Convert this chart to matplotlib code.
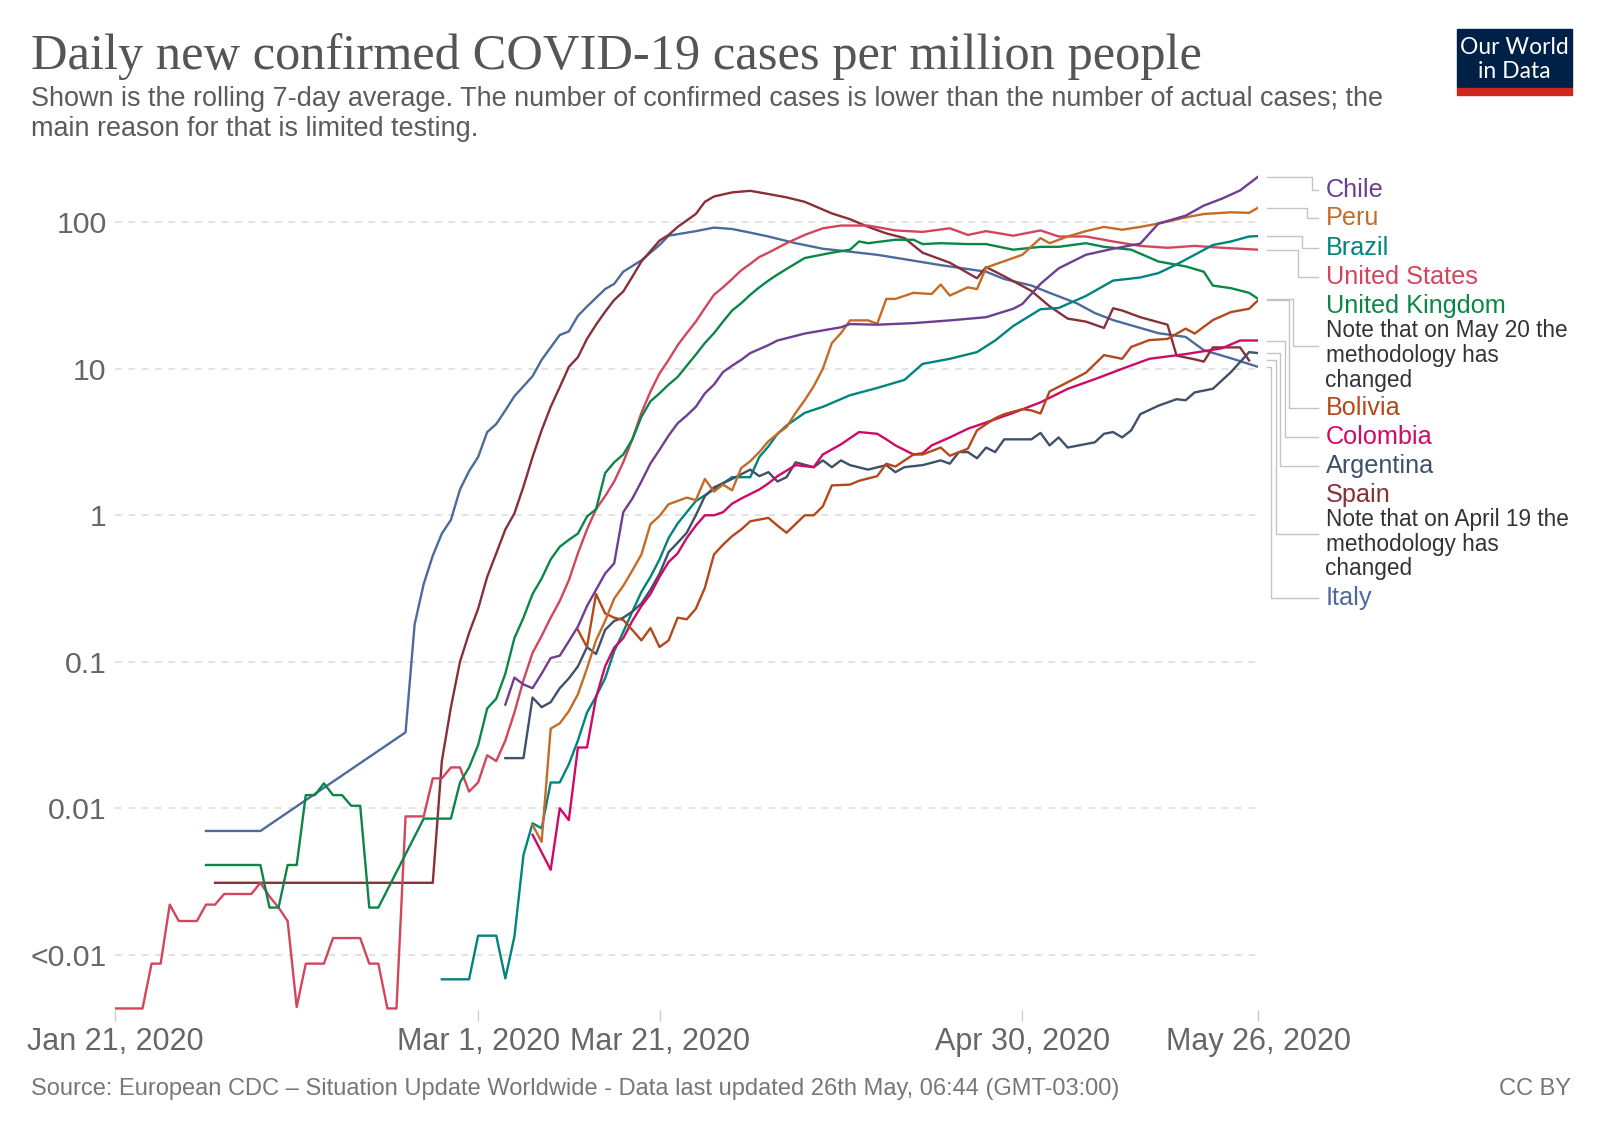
import numpy as np
import matplotlib
matplotlib.use('Agg')
import matplotlib.pyplot as plt
from matplotlib.lines import Line2D
from matplotlib.patches import Rectangle
from matplotlib.ticker import NullLocator

plt.rcParams['font.family'] = ['Liberation Sans', 'DejaVu Sans']

W, H = 1600, 1129
start = np.datetime64('2020-01-21')

# days since Jan 21 2020 and daily new confirmed cases per million (7-day avg)
italy_days = [10, 16, 32, 33, 34, 35, 36, 37, 38, 39, 40, 41, 42, 43, 44, 45, 46, 47, 48, 49, 50, 51, 52, 54, 55, 56, 58, 60, 61, 64,
              66, 68, 70, 72, 75, 78, 81, 84, 87, 91, 96, 98, 101, 103, 106, 108, 110, 113, 115, 118, 120, 123, 126]
italy_vals = [0.007, 0.007, 0.033, 0.18, 0.34, 0.53, 0.75, 0.93, 1.5, 2.0, 2.5, 3.7, 4.2, 5.2, 6.5, 7.6, 8.9, 11.5, 14, 17, 18, 23, 26.6, 35, 38, 46, 55, 70, 81, 87,
              92, 90, 85, 80, 72, 66, 63, 60, 56, 51, 46, 41, 37, 33, 28, 24, 21.5, 19, 17.5, 16.5, 13.4, 11.8, 10.3]

spain_days = [11, 35, 36, 37, 38, 39, 40, 41, 42, 43, 44, 45, 46, 47, 48, 49, 50, 51, 52, 53, 54, 55, 56, 57, 58, 60, 61, 62, 64, 65,
              66, 68, 70, 72, 74, 76, 79, 81, 83, 85, 87, 89, 92, 95, 96, 98, 101, 103, 105, 107, 109, 110, 111, 113, 116, 117, 119, 120, 121, 124, 125]
spain_vals = [0.0031, 0.0031, 0.021, 0.049, 0.10, 0.157, 0.23, 0.38, 0.55, 0.8, 1.03, 1.57, 2.5, 3.8, 5.5, 7.5, 10.3, 12, 16, 20, 24.5, 29.5, 33.7, 42.5, 54, 75, 82, 93, 114, 138,
              150, 160, 164, 156, 148, 138, 115, 105, 93, 84, 78, 62, 53, 41.5, 49.5, 42.8, 34, 26.7, 22, 21, 19, 25.9, 25, 22.5, 20, 12.3, 11.6, 11.2, 14, 14, 11.4]

us_days = [0, 3, 4, 5, 6, 7, 9, 10, 11, 12, 15, 16, 17, 18, 19, 20, 21, 23, 24, 27, 28, 29, 30, 31, 32, 34, 35, 36, 37, 38,
           39, 40, 41, 42, 43, 44, 45, 46, 47, 48, 49, 50, 51, 52, 53, 54, 55, 56, 57, 58, 59, 60, 61, 62, 63, 64, 65, 66, 67, 68,
           69, 70, 71, 72, 74, 76, 78, 80, 83, 86, 89, 92, 94, 96, 99, 102, 104, 107, 110, 113, 116, 119, 122, 124, 126]
us_vals = [0.00043, 0.00043, 0.00087, 0.00087, 0.0022, 0.0017, 0.0017, 0.0022, 0.0022, 0.0026, 0.0026, 0.0031, 0.0025, 0.0021, 0.0017,
           0.00044, 0.00087, 0.00087, 0.0013, 0.0013, 0.00087, 0.00087, 0.00043, 0.00043, 0.0088, 0.0088, 0.016, 0.016, 0.019, 0.019,
           0.013, 0.015, 0.023, 0.021, 0.029, 0.045, 0.075, 0.115, 0.15, 0.2, 0.26, 0.36, 0.55, 0.8, 1.1, 1.35, 1.7, 2.3, 3.3, 5.0,
           7.0, 9.3, 11.5, 14.5, 17.5, 21, 26, 32, 36, 41, 47, 52, 58, 62, 72, 82, 91, 95, 95, 88,
           86, 91, 82, 87, 81, 88, 80, 80, 74, 69, 67, 69, 67, 66, 65]

uk_days = [10, 16, 17, 18, 19, 20, 21, 22, 23, 24, 25, 26, 27, 28, 29, 34, 37, 38, 39, 40, 41, 42, 43, 44, 45, 46, 47, 48, 49, 50,
           51, 52, 53, 54, 55, 56, 57, 58, 59, 60, 61, 62, 63, 64, 65, 66, 67, 68, 69, 70, 71, 72, 73, 74, 76, 79, 81, 82, 83, 86,
           88, 89, 91, 94, 96, 99, 102, 104, 107, 109, 112, 115, 118, 120, 121, 123, 125, 126]
uk_vals = [0.0041, 0.0041, 0.0021, 0.0021, 0.0041, 0.0041, 0.0123, 0.0123, 0.0148, 0.0123, 0.0123, 0.0104, 0.0104, 0.0021, 0.0021,
           0.0085, 0.0085, 0.015, 0.019, 0.027, 0.048, 0.056, 0.083, 0.145, 0.2, 0.29, 0.37, 0.5, 0.61, 0.68,
           0.75, 0.98, 1.1, 1.94, 2.3, 2.6, 3.3, 4.7, 6.0, 6.8, 7.8, 8.8, 10.5, 12.5, 15, 17.5, 21, 25, 28, 32,
           36, 40, 44, 48, 57, 62, 65, 74, 72, 76, 76, 71, 72, 71, 71, 65, 68, 68, 72, 68, 65, 54, 50, 46, 37, 35.5, 33, 30]

chile_days = [43, 44, 45, 46, 47, 48, 49, 50, 51, 52, 53, 54, 55, 56, 57, 58, 59, 60, 61, 62, 63, 64, 65, 66, 67, 68, 69, 70, 72, 73,
              76, 80, 81, 84, 88, 92, 96, 99, 100, 102, 104, 107, 110, 113, 115, 118, 120, 122, 124, 126]
chile_vals = [0.051, 0.078, 0.07, 0.066, 0.083, 0.106, 0.11, 0.138, 0.174, 0.24, 0.31, 0.4, 0.47, 1.05, 1.3, 1.7, 2.26, 2.8, 3.5, 4.25,
              4.8, 5.5, 6.8, 7.8, 9.5, 10.5, 11.5, 12.8, 14.5, 15.6, 17.4, 19.2, 20.2, 20, 20.5, 21.4, 22.5, 25.7, 27.7, 38,
              48.5, 60, 66, 71.5, 98, 111, 130, 145, 165, 205]

peru_days = [46, 47, 48, 49, 50, 51, 52, 53, 54, 55, 56, 57, 58, 59, 60, 61, 63, 64, 65, 66, 67, 68, 69, 70, 71, 72, 73, 74, 75, 76,
             77, 78, 79, 80, 81, 83, 84, 85, 86, 88, 90, 91, 92, 94, 95, 96, 97, 100, 102, 103, 105, 107, 109, 111, 113, 115, 118, 120, 123, 125, 126]
peru_vals = [0.0077, 0.0059, 0.035, 0.038, 0.046, 0.06, 0.09, 0.14, 0.19, 0.27, 0.33, 0.42, 0.54, 0.87, 0.99, 1.19, 1.32, 1.27, 1.77, 1.45,
             1.62, 1.48, 2.1, 2.34, 2.7, 3.2, 3.6, 4.0, 5.0, 6.1, 7.6, 10, 15, 17.5, 21.4, 21.4, 20.3, 30, 30, 33,
             32.4, 37.6, 31.6, 36, 35, 49, 51.6, 60, 78, 72, 80, 87, 93, 89, 93, 98, 108, 114, 117, 116, 126]

brazil_days = [36, 39, 40, 42, 43, 44, 45, 46, 47, 48, 49, 50, 51, 52, 53, 54, 55, 56, 57, 58, 59, 60, 61, 62, 63, 64, 66, 68, 70, 71,
               72, 73, 74, 76, 78, 81, 84, 87, 89, 92, 95, 97, 99, 102, 104, 107, 110, 113, 115, 117, 119, 121, 123, 125, 126]
brazil_vals = [0.00068, 0.00068, 0.00135, 0.00135, 0.00069, 0.00133, 0.0048, 0.0079, 0.0073, 0.015, 0.015, 0.02, 0.029, 0.045, 0.058,
               0.077, 0.118, 0.16, 0.22, 0.3, 0.38, 0.5, 0.7, 0.88, 1.05, 1.25, 1.5, 1.82, 1.82, 2.5,
               2.95, 3.6, 4.1, 5.0, 5.5, 6.6, 7.4, 8.4, 10.8, 11.7, 13, 15.6, 19.6, 25.5, 26, 31.4, 40, 42, 45, 51.6, 60, 70, 74, 80, 80.5]

argentina_days = [43, 45, 46, 47, 48, 49, 50, 51, 52, 53, 54, 55, 56, 57, 58, 59, 60, 61, 62, 63, 64, 65, 66, 68, 70, 71, 72, 73, 74, 75,
                  77, 78, 79, 80, 81, 83, 85, 86, 87, 89, 91, 92, 93, 94, 95, 96, 97, 98, 101, 102, 103, 104, 105, 108, 109, 110, 111, 112, 113, 115,
                  117, 118, 119, 121, 123, 125, 126]
argentina_vals = [0.022, 0.022, 0.057, 0.049, 0.053, 0.066, 0.077, 0.093, 0.126, 0.113, 0.165, 0.19, 0.2, 0.22, 0.25, 0.31, 0.4, 0.56, 0.65, 0.76,
                  1.0, 1.35, 1.55, 1.77, 2.05, 1.85, 1.97, 1.7, 1.82, 2.3, 2.13, 2.37, 2.13, 2.37, 2.2, 2.05, 2.2, 1.97, 2.13, 2.2,
                  2.37, 2.25, 2.7, 2.7, 2.45, 2.9, 2.7, 3.3, 3.3, 3.65, 3.0, 3.4, 2.9, 3.15, 3.6, 3.7, 3.4, 3.8, 4.9, 5.6,
                  6.2, 6.1, 6.9, 7.3, 9.5, 13, 12.8]

colombia_days = [46, 48, 49, 50, 51, 52, 53, 54, 55, 56, 57, 58, 59, 60, 61, 62, 63, 64, 65, 66, 67, 68, 69, 71, 72, 73, 75, 77, 78, 80,
                 82, 84, 85, 86, 88, 89, 90, 92, 94, 96, 99, 102, 105, 108, 111, 114, 118, 122, 124, 126]
colombia_vals = [0.0066, 0.0038, 0.01, 0.0083, 0.026, 0.026, 0.057, 0.093, 0.125, 0.145, 0.19, 0.24, 0.29, 0.38, 0.48, 0.55, 0.7, 0.85, 1.0, 1.0,
                 1.05, 1.2, 1.3, 1.5, 1.65, 1.85, 2.2, 2.13, 2.6, 3.05, 3.7, 3.6, 3.3, 3.0, 2.6, 2.65, 3.0, 3.4, 3.9, 4.3,
                 5.0, 5.9, 7.3, 8.5, 10, 11.7, 12.6, 13.8, 15.6, 15.6]

bolivia_days = [51, 52, 53, 54, 55, 56, 57, 58, 59, 60, 61, 62, 63, 64, 65, 66, 67, 68, 69, 70, 72, 73, 74, 76, 77, 78, 79, 81, 82, 84,
                85, 86, 88, 89, 91, 92, 94, 95, 97, 98, 100, 101, 102, 103, 105, 107, 109, 111, 112, 114, 116, 118, 119, 121, 123, 125, 126]
bolivia_vals = [0.165, 0.126, 0.29, 0.214, 0.2, 0.193, 0.165, 0.14, 0.17, 0.126, 0.14, 0.2, 0.195, 0.23, 0.32, 0.54, 0.63, 0.72, 0.8, 0.91,
                0.96, 0.85, 0.76, 1.0, 1.0, 1.15, 1.6, 1.62, 1.72, 1.85, 2.25, 2.15, 2.6, 2.6, 2.9, 2.55, 2.85, 3.8, 4.6, 4.9,
                5.3, 5.2, 4.95, 7.0, 8.1, 9.4, 12.4, 11.7, 14.1, 15.7, 16, 18.8, 17.4, 21.5, 24.4, 25.7, 29.4]

ytick_vals = [0.001, 0.01, 0.1, 1, 10, 100]
ytick_labels = ['<0.01', '0.01', '0.1', '1', '10', '100']
xtick_dates = ['2020-01-21', '2020-03-01', '2020-03-21', '2020-04-30', '2020-05-26']
xtick_labels = ['Jan 21, 2020', 'Mar 1, 2020', 'Mar 21, 2020', 'Apr 30, 2020', 'May 26, 2020']

# name, days, values, colour
series = [
    ('Italy', italy_days, italy_vals, '#4C6A9C'),
    ('Spain', spain_days, spain_vals, '#883039'),
    ('United States', us_days, us_vals, '#D3455C'),
    ('United Kingdom', uk_days, uk_vals, '#0A8747'),
    ('Brazil', brazil_days, brazil_vals, '#00847E'),
    ('Argentina', argentina_days, argentina_vals, '#3F5069'),
    ('Colombia', colombia_days, colombia_vals, '#CF0A66'),
    ('Bolivia', bolivia_days, bolivia_vals, '#B4481B'),
    ('Peru', peru_days, peru_vals, '#C66B26'),
    ('Chile', chile_days, chile_vals, '#6D3E91'),
]


def fx(x):
    return x / W


def fy(y):
    return 1 - y / H


fig = plt.figure(figsize=(W / 100, H / 100), dpi=100)
fig.patch.set_facecolor('white')
ax = fig.add_axes([fx(115.3), fy(1010), (1258.2 - 115.3) / W, (1010 - 170) / H])

for name, days, vals, col in series:
    x = start + np.array(days).astype('timedelta64[D]')
    ax.plot(x, vals, color=col, lw=1.7, solid_joinstyle='round')

ax.set_yscale('log')
ax.set_ylim(10 ** -3.377, 10 ** 2.357)
ax.set_xlim(start, start + np.timedelta64(126, 'D'))
ax.set_yticks(ytick_vals)
ax.set_yticklabels(ytick_labels)
ax.yaxis.set_minor_locator(NullLocator())
ax.set_xticks([np.datetime64(d) for d in xtick_dates])
ax.set_xticklabels(xtick_labels)
for s in ax.spines.values():
    s.set_visible(False)
ax.grid(axis='y', color='#dddddd', lw=1.2, linestyle=(0, (4, 4)))
ax.set_axisbelow(True)
ax.tick_params(axis='y', length=0, pad=6.3, labelsize=21.8, labelcolor='#666666')
ax.tick_params(axis='x', length=8, width=1, color='#cccccc', pad=4, labelsize=22, labelcolor='#666666')

# header and footer
fig.text(fx(30.6), fy(69.5), 'Daily new confirmed COVID-19 cases per million people',
         family='Liberation Serif', fontsize=36.4, color='#555555', va='baseline')
fig.text(fx(30.6), fy(106), 'Shown is the rolling 7-day average. The number of confirmed cases is lower than the number of actual cases; the',
         fontsize=19.45, color='#5b5b5b', va='baseline')
fig.text(fx(30.6), fy(135.7), 'main reason for that is limited testing.',
         fontsize=19.45, color='#5b5b5b', va='baseline')
fig.text(fx(30.6), fy(1095), 'Source: European CDC \u2013 Situation Update Worldwide - Data last updated 26th May, 06:44 (GMT-03:00)',
         fontsize=17, color='#777777', va='baseline')
fig.text(fx(1571), fy(1095), 'CC BY', fontsize=17, color='#777777', va='baseline', ha='right')

# logo
fig.add_artist(Rectangle((fx(1457), fy(88.3)), 115 / W, 59 / H, transform=fig.transFigure, color='#002147'))
fig.add_artist(Rectangle((fx(1457), fy(94.5)), 115 / W, 6.2 / H, transform=fig.transFigure, color='#CE261E'))
fig.text(fx(1514.5), fy(48), 'Our World', family='Lato', fontsize=16.5, color='white', ha='center', va='center')
fig.text(fx(1514.5), fy(71.5), 'in Data', family='Lato', fontsize=16.5, color='white', ha='center', va='center')

# end labels with connectors: name -> (label y, elbow x)
label_pos = {
    'Chile': (189.8, 1311.7),
    'Peru': (218.4, 1306.7),
    'Brazil': (248.0, 1301.7),
    'United States': (276.5, 1298.3),
    'United Kingdom': (306.1, 1293.3),
    'Bolivia': (408.2, 1289.3),
    'Colombia': (436.7, 1285.0),
    'Argentina': (466.3, 1280.0),
    'Spain': (494.9, 1275.7),
    'Italy': (598.0, 1270.7),
}
notes = {
    'United Kingdom': ['Note that on May 20 the', 'methodology has', 'changed'],
    'Spain': ['Note that on April 19 the', 'methodology has', 'changed'],
}
label_x = 1325.5
for name, days, vals, col in series:
    ly, ex = label_pos[name]
    end = ax.transData.transform((matplotlib.dates.date2num(start + np.timedelta64(days[-1], 'D')), vals[-1]))
    sy = H - end[1]
    ty = ly
    if name in notes:
        ty = ly + 25 * len(notes[name]) / 2 + 2
    fig.add_artist(Line2D([fx(1266.7), fx(ex), fx(ex), fx(1318)], [fy(sy), fy(sy), fy(ty), fy(ty)],
                          transform=fig.transFigure, color='#c4c4c4', lw=1.0))
    fig.text(fx(label_x), fy(ly), name, fontsize=18.2, color=col, va='center')
    if name in notes:
        for i, line in enumerate(notes[name]):
            fig.text(fx(label_x), fy(ly + 24.7 * (i + 1)), line, fontsize=16.3, color='#333333', va='center')

fig.savefig('out.png', dpi=100, facecolor='white')
